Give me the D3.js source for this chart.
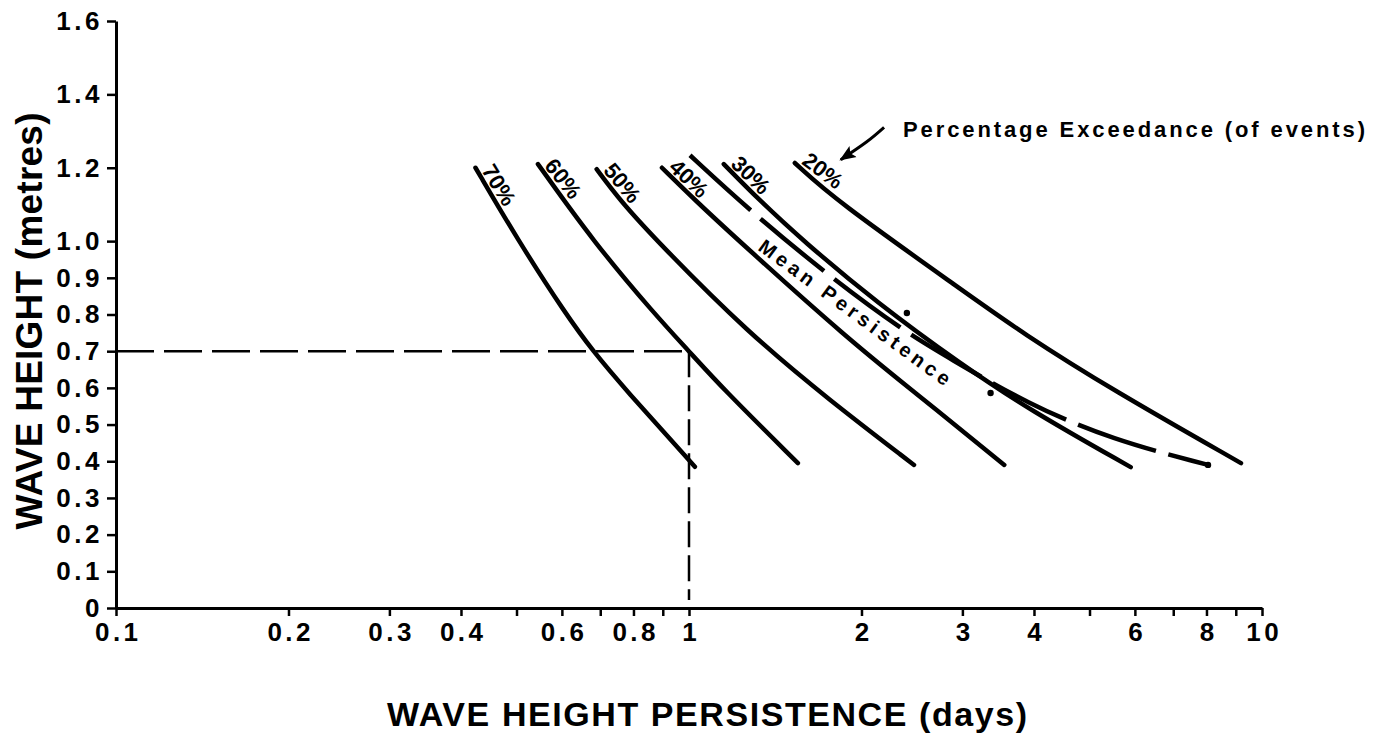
<!DOCTYPE html>
<html>
<head>
<meta charset="utf-8">
<script src="https://cdn.jsdelivr.net/npm/d3@7"></script>
<style>
  body { margin: 0; background: #fff; }
  svg { display: block; font-family: "Liberation Sans", Arial, sans-serif; font-weight: bold; }
</style>
</head>
<body>
<div id="chart"></div>
<script>
// Axis ticks
const xTicks = [0.1, 0.2, 0.3, 0.4, 0.5, 0.6, 0.7, 0.8, 0.9, 1, 2, 3, 4, 5, 6, 7, 8, 9, 10];
const xLabels = [0.1, 0.2, 0.3, 0.4, 0.6, 0.8, 1, 2, 3, 4, 6, 8, 10];
const yTicks = [0, 0.1, 0.2, 0.3, 0.4, 0.5, 0.6, 0.7, 0.8, 0.9, 1.0, 1.2, 1.4, 1.6];

// Exceedance curves, points are [days, metres]
const curveNames = ["70%", "60%", "50%", "40%", "30%", "20%"];
const curve70 = [[0.424, 1.2], [0.504, 1.0], [0.610, 0.8], [0.680, 0.7], [0.770, 0.6], [1.024, 0.385]];
const curve60 = [[0.545, 1.21], [0.680, 1.0], [0.872, 0.8], [1.0, 0.7], [1.142, 0.6], [1.549, 0.395]];
const curve50 = [[0.690, 1.196], [0.757, 1.112], [0.879, 1.0], [1.27, 0.749], [1.757, 0.567], [2.47, 0.39]];
const curve40 = [[0.897, 1.2], [1.024, 1.112], [1.223, 1.0], [1.905, 0.73], [2.45, 0.594], [3.55, 0.39]];
const curve30 = [[1.15, 1.21], [1.326, 1.112], [1.576, 1.003], [2.12, 0.834], [3.0, 0.662], [3.93, 0.54], [5.90, 0.384]];
const curve20 = [[1.53, 1.213], [1.80, 1.112], [3.0, 0.866], [3.82, 0.749], [5.49, 0.594], [9.19, 0.395]];

// Mean persistence (dashed) and its dots
const meanPersistence = [[1.004, 1.234], [1.273, 1.085], [1.764, 0.902], [2.386, 0.752], [2.825, 0.684], [3.90, 0.556], [5.49, 0.458], [8.05, 0.39]];
const meanDots = [[2.40, 0.804], [3.36, 0.586], [8.05, 0.39]];

const example = [1, 0.7];

// Note "Percentage Exceedance" and its arrow
const noteAt = [2.363, 1.284];
const arrowPts = [[2.19, 1.31], [2.04, 1.27], [1.84, 1.222]];

let width = 1385, height = 733;

let svg = d3.select("#chart")
  .append("svg")
  .attr("width", width)
  .attr("height", height);

let x = d3.scaleLog().domain([0.1, 10]).range([116, 1262]);
let y = d3.scaleLinear().domain([0, 1.6]).range([608, 21]);

const font = '"Liberation Sans", Arial, sans-serif';

// y axis
let yAxis = svg.append("g")
  .attr("transform", `translate(${x(0.1)},0)`)
  .call(d3.axisLeft(y)
    .tickValues(yTicks)
    .tickSize(9)
    .tickSizeOuter(0)
    .tickPadding(4)
    .tickFormat(d => d === 0 ? "0" : d3.format(".1f")(d)))
  .attr("font-family", font)
  .attr("font-size", 26)
  .attr("font-weight", "bold");
yAxis.select(".domain").attr("stroke-width", 3);
yAxis.selectAll(".tick line").attr("stroke-width", 2.5);
yAxis.selectAll(".tick text").attr("letter-spacing", 3.5).attr("fill", "#000");

// x axis
let xAxis = svg.append("g")
  .attr("transform", `translate(0,${y(0)})`)
  .call(d3.axisBottom(x)
    .tickValues(xTicks)
    .tickSize(8)
    .tickSizeOuter(0)
    .tickPadding(7)
    .tickFormat(d => xLabels.includes(d) ? String(d) : ""))
  .attr("font-family", font)
  .attr("font-size", 26)
  .attr("font-weight", "bold");
xAxis.select(".domain").attr("stroke-width", 3);
xAxis.selectAll(".tick text").attr("letter-spacing", 3.5).attr("dx", 1.75).attr("fill", "#000");
xAxis.selectAll(".tick line").attr("stroke-width", 2.5);

// Axis titles
svg.append("text")
  .attr("x", 707)
  .attr("y", 726)
  .attr("text-anchor", "middle")
  .attr("font-size", 34)
  .attr("textLength", 640)
  .attr("lengthAdjust", "spacing")
  .text("WAVE HEIGHT PERSISTENCE (days)");

svg.append("text")
  .attr("transform", "translate(42,321) rotate(-90)")
  .attr("text-anchor", "middle")
  .attr("font-size", 37)
  .attr("textLength", 417)
  .attr("lengthAdjust", "spacing")
  .text("WAVE HEIGHT (metres)");

// Dashed read-off lines
svg.append("line")
  .attr("x1", x(0.1)).attr("x2", x(example[0]))
  .attr("y1", y(example[1])).attr("y2", y(example[1]))
  .attr("stroke", "#000").attr("stroke-width", 2.5)
  .attr("stroke-dasharray", "38 10");

svg.append("line")
  .attr("x1", x(example[0])).attr("x2", x(example[0]))
  .attr("y1", y(example[1])).attr("y2", y(0) - 8)
  .attr("stroke", "#000").attr("stroke-width", 2.5)
  .attr("stroke-dasharray", "26 8");

let line = d3.line()
  .x(d => x(d[0]))
  .y(d => y(d[1]))
  .curve(d3.curveBasis);

// Exceedance curves with rotated labels
const curves = [curve70, curve60, curve50, curve40, curve30, curve20];
curves.forEach((pts, i) => {
  svg.append("path")
    .datum(pts)
    .attr("d", line)
    .attr("fill", "none")
    .attr("stroke", "#000")
    .attr("stroke-width", 4.5)
    .attr("stroke-linecap", "round");

  const p0 = [x(pts[0][0]), y(pts[0][1])];
  const p2 = [x(pts[2][0]), y(pts[2][1])];
  const len = Math.hypot(p2[0] - p0[0], p2[1] - p0[1]);
  const dx = (p2[0] - p0[0]) / len, dy = (p2[1] - p0[1]) / len;
  const ang = Math.atan2(dy, dx) * 180 / Math.PI;
  const cx = p0[0] + dx * 27 + dy * 11;
  const cy = p0[1] + dy * 27 - dx * 11;

  svg.append("text")
    .attr("transform", `translate(${cx},${cy}) rotate(${ang})`)
    .attr("text-anchor", "middle")
    .attr("dy", "0.35em")
    .attr("font-size", 22)
    .text(curveNames[i]);
});

// Mean persistence line
svg.append("path")
  .datum(meanPersistence)
  .attr("d", line)
  .attr("fill", "none")
  .attr("stroke", "#000")
  .attr("stroke-width", 4.5)
  .attr("stroke-dasharray", "82 13");

svg.selectAll(".mdot")
  .data(meanDots)
  .enter()
  .append("circle")
  .attr("cx", d => x(d[0]))
  .attr("cy", d => y(d[1]))
  .attr("r", 3.2)
  .attr("fill", "#000");

{
  const a = [x(meanPersistence[2][0]), y(meanPersistence[2][1])];
  const b = [x(meanPersistence[3][0]), y(meanPersistence[3][1])];
  const len = Math.hypot(b[0] - a[0], b[1] - a[1]);
  const dx = (b[0] - a[0]) / len, dy = (b[1] - a[1]) / len;
  const ang = Math.atan2(dy, dx) * 180 / Math.PI;
  const cx = (a[0] + b[0]) / 2 - dx * 6 - dy * 14;
  const cy = (a[1] + b[1]) / 2 - dy * 6 + dx * 14;
  svg.append("text")
    .attr("transform", `translate(${cx},${cy}) rotate(${ang})`)
    .attr("text-anchor", "middle")
    .attr("dy", "0.35em")
    .attr("font-size", 20)
    .attr("textLength", 232)
    .attr("lengthAdjust", "spacing")
    .text("Mean Persistence");
}

// Note with arrow
svg.append("defs").append("marker")
  .attr("id", "head")
  .attr("viewBox", "0 0 10 10")
  .attr("refX", 9).attr("refY", 5)
  .attr("markerWidth", 5.5).attr("markerHeight", 5.5)
  .attr("markerUnits", "strokeWidth")
  .attr("orient", "auto")
  .append("path")
  .attr("d", "M0,1 L10,5 L0,9 L2,5 Z")
  .attr("fill", "#000");

svg.append("path")
  .datum(arrowPts)
  .attr("d", d3.line().x(d => x(d[0])).y(d => y(d[1])).curve(d3.curveNatural))
  .attr("fill", "none")
  .attr("stroke", "#000")
  .attr("stroke-width", 3)
  .attr("marker-end", "url(#head)");

svg.append("text")
  .attr("x", x(noteAt[0]))
  .attr("y", y(noteAt[1]))
  .attr("font-size", 22)
  .attr("textLength", 462)
  .attr("lengthAdjust", "spacing")
  .text("Percentage Exceedance (of events)");
</script>
</body>
</html>
